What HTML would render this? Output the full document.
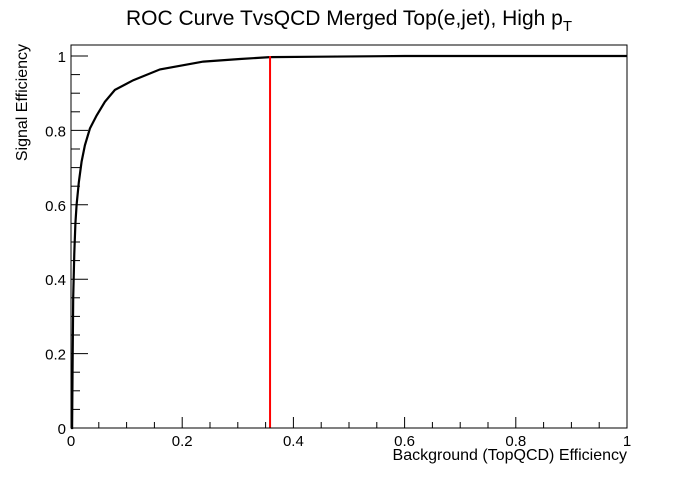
<!DOCTYPE html>
<html><head><meta charset="utf-8"><style>
body{margin:0;background:#fff;}
svg{font-family:"Liberation Sans",Arial,sans-serif;}
</style></head><body>
<svg id="c" width="698" height="476">
<rect width="698" height="476" fill="#fff"/>
<text x="349" y="25" text-anchor="middle" font-size="21">ROC Curve TvsQCD Merged Top(e,jet), High p<tspan font-size="15" dy="6">T</tspan></text>
<text x="627" y="460" text-anchor="end" font-size="16">Background (TopQCD) Efficiency</text>
<text transform="translate(27,44) rotate(-90)" text-anchor="end" font-size="16">Signal Efficiency</text>
<g id="axes"></g>
<g id="marks"></g>
<rect x="71" y="45" width="556" height="383" fill="none" stroke="#000" stroke-width="1"/>
</svg>
<script>
const bkgEff=[0,0.002,0.003,0.004,0.006,0.008,0.010,0.014,0.019,0.025,0.034,0.046,0.061,0.079,0.112,0.16,0.238,0.304,0.358,0.45,0.6,0.8,1.0];
const sigEff=[0,0,0.2,0.35,0.47,0.55,0.60,0.66,0.716,0.76,0.805,0.84,0.877,0.909,0.935,0.964,0.985,0.992,0.997,0.998,1.0,1.0,1.0];
const cutValue=[0.358];
const xTicks=[0,0.2,0.4,0.6,0.8,1];
const yTicks=[0,0.2,0.4,0.6,0.8,1];
const X0=71,X1=627,Y0=428,Y1=56;
const sx=v=>X0+v*(X1-X0), sy=v=>Y0-v*(Y0-Y1);
const NS="http://www.w3.org/2000/svg";
const axes=document.getElementById('axes'), marks=document.getElementById('marks');
function mk(tag,attrs,parent){const e=document.createElementNS(NS,tag);for(const k in attrs)e.setAttribute(k,attrs[k]);parent.appendChild(e);return e;}
for(let i=0;i<=20;i++){const v=i*0.05;const major=i%4===0;
 const t=mk('line',{x1:sx(v),x2:sx(v),y1:Y0,y2:Y0-(major?11:6),stroke:'#000'},axes);
 
 
 const u=mk('line',{x1:X0,x2:X0+(major?17:9),y1:sy(v),y2:sy(v),stroke:'#000'},axes);
 
 }
xTicks.forEach(v=>{const t=mk('text',{x:sx(v),y:Y0+18,'text-anchor':'middle','font-size':15},axes);t.textContent=String(v);
 
 });
yTicks.forEach(v=>{const t=mk('text',{x:X0-5,y:sy(v)+6,'text-anchor':'end','font-size':15},axes);t.textContent=String(v);
 
 });
const pts=bkgEff.map((b,i)=>sx(b).toFixed(1)+','+sy(sigEff[i]).toFixed(1)).join(' ');
const pl=mk('polyline',{points:pts,fill:'none',stroke:'#000','stroke-width':2.2},marks);


const cl=mk('line',{x1:sx(cutValue[0]),x2:sx(cutValue[0]),y1:Y0,y2:sy(1),stroke:'#f00','stroke-width':2},marks);


</script>
</body></html>
